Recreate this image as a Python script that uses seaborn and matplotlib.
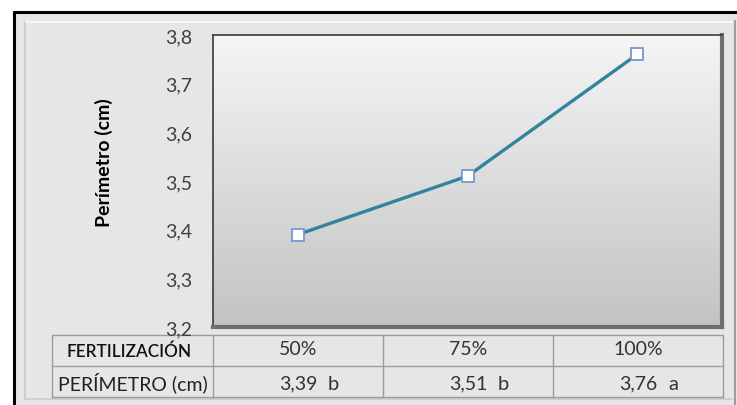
import numpy as np
import pandas as pd
import matplotlib
matplotlib.use("Agg")
import matplotlib.pyplot as plt
import seaborn as sns
from matplotlib.patches import Rectangle
from matplotlib.colors import LinearSegmentedColormap

# Data
fertilizacion = ["50%", "75%", "100%"]
perimetro = [3.39, 3.51, 3.76]
letras = ["b", "b", "a"]
y_ticks = [3.2, 3.3, 3.4, 3.5, 3.6, 3.7, 3.8]
row_labels = ["FERTILIZACIÓN", "PERÍMETRO (cm)"]
y_label = "Perímetro (cm)"

sns.set_theme(style="white")
plt.rcParams["font.family"] = ["Lato", "DejaVu Sans"]

W, H = 737, 406
fig = plt.figure(figsize=(W / 100, H / 100), dpi=100)
fig.patch.set_facecolor("white")

# Frame and data table drawn in pixel units on a full-figure layer
bg = fig.add_axes([0, 0, 1, 1], zorder=0)
bg.set_xlim(0, W)
bg.set_ylim(H, 0)
bg.axis("off")
bg.add_patch(Rectangle((14, 13), W - 14, H - 13, facecolor="#e6e6e6", edgecolor="none"))
bg.plot([25, 732], [23, 23], color="#f6f6f6", lw=1.5)
bg.plot([25, 25], [23, 400], color="#cacaca", lw=1.2)
bg.plot([25, 732], [400, 400], color="#cacaca", lw=1.2)
bg.plot([735, 735], [22, H], color="#9c9c9c", lw=1.5)
bg.plot([13, W], [13, 13], color="black", lw=2.2, solid_capstyle="butt")
bg.plot([14, 14], [12, H], color="black", lw=2.2, solid_capstyle="butt")

# Plot area
L, R, T, B = 213, 722, 36, 328
ax = fig.add_axes([L / W, 1 - B / H, (R - L) / W, (B - T) / H], zorder=2)
grad = LinearSegmentedColormap.from_list("plotbg", ["#f5f5f5", "#c3c3c3"])
ax.imshow(np.linspace(0, 1, 256)[:, None], cmap=grad, aspect="auto",
          extent=[0, 1, 0, 1], transform=ax.transAxes, zorder=0)

df = pd.DataFrame({"fertilizacion": fertilizacion, "perimetro": perimetro})
df["pos"] = np.arange(len(df))
sns.lineplot(data=df, x="pos", y="perimetro", ax=ax, sort=False,
             color="#31849b", lw=2.4, marker="s", markersize=8,
             markerfacecolor="white", markeredgecolor="#7599cf",
             markeredgewidth=1.3, zorder=3)

ax.set_xlim(-0.5, len(fertilizacion) - 0.5)
ax.set_ylim(3.2, 3.8)
ax.set_xticks([])
ax.set_yticks(y_ticks)
ax.set_yticklabels([f"{v:.1f}".replace(".", ",") for v in y_ticks])
ax.tick_params(axis="y", length=0, pad=15, labelsize=14, labelcolor="#404040")
ax.set_xlabel("")
ax.set_ylabel("")
ax.grid(False)
for side in ["top", "left"]:
    ax.spines[side].set_color("#3a3a3a")
    ax.spines[side].set_linewidth(1.2)
for side in ["right", "bottom"]:
    ax.spines[side].set_color("#6e6e6e")
    ax.spines[side].set_linewidth(3)

fig.text(104 / W, 1 - 163 / H, y_label, rotation=90, ha="center", va="center",
         fontsize=14, fontweight="bold", color="black")

# Data table under the plot
col_edges = [52, 213, 383, 553, 723]
row_edges = [336, 367, 398]
tab_color = "#9c9c9c"
for yy in row_edges:
    bg.plot([col_edges[0], col_edges[-1]], [yy, yy], color=tab_color, lw=1)
for xx in col_edges:
    bg.plot([xx, xx], [row_edges[0], row_edges[-1]], color=tab_color, lw=1)

row_y = [(row_edges[0] + row_edges[1]) / 2, (row_edges[1] + row_edges[2]) / 2]
bg.text((col_edges[0] + col_edges[1]) / 2 - 3, row_y[0], row_labels[0],
        ha="center", va="center", fontsize=12.3, fontweight="semibold", color="#111111")
bg.text((col_edges[0] + col_edges[1]) / 2, row_y[1], row_labels[1],
        ha="center", va="center", fontsize=14, color="#222222")
for i, (cat, val, let) in enumerate(zip(fertilizacion, perimetro, letras)):
    cx = (col_edges[i + 1] + col_edges[i + 2]) / 2
    bg.text(cx, row_y[0] - 2, cat, ha="center", va="center", fontsize=14, color="#333333")
    bg.text(cx, row_y[1] + 1, f"{val:.2f}".replace(".", ","), ha="center",
            va="center", fontsize=14, color="#333333")
    bg.text(cx + 35, row_y[1] + 2, let, ha="center", va="center",
            fontsize=14.5, color="#333333")

fig.savefig("out.png", dpi=100, facecolor=fig.get_facecolor())
